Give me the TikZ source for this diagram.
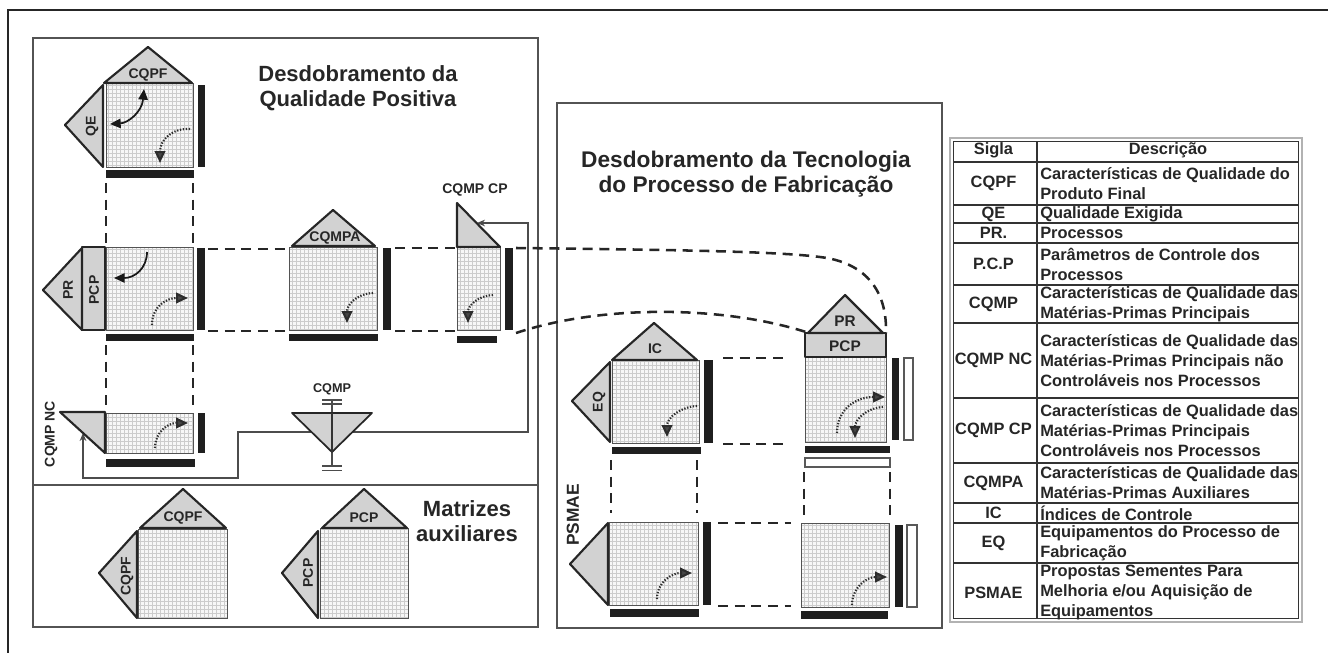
\documentclass[tikz,border=0pt]{standalone}
\usepackage{fontspec}
\setmainfont{Liberation Sans}
\usetikzlibrary{arrows.meta,patterns,calc}
\newcommand\mtxbox[4]{%
  \fill[gray!6] (#1,#2) rectangle (#3,#4);
  \fill[pattern=grid, pattern color=gray!40] (#1,#2) rectangle (#3,#4);
  \draw[gray!65!black, line width=0.7pt] (#1,#2) rectangle (#3,#4);}
\begin{document}
\begin{tikzpicture}[x=0.75pt,y=-0.75pt,
  panel/.style={draw=gray!65!black, line width=1.1pt},
  tri/.style={fill=gray!35, draw=black!85, line width=1.6pt, line join=round},
  bar/.style={fill=black!88},
  wbar/.style={fill=white, draw=gray!70!black, line width=0.8pt},
  dlink/.style={draw=black!85, line width=1.9pt, dash pattern=on 7.5pt off 5pt},
  thinlink/.style={draw=gray!60!black, line width=0.8pt},
  lbl/.style={font=\bfseries\fontsize{10.5}{12}\selectfont, text=black!85, inner sep=0pt},
  ttl/.style={font=\bfseries\fontsize{16.5}{19}\selectfont, text=black!85, align=center, inner sep=0pt},
  tab/.style={font=\bfseries\fontsize{12.3}{15}\selectfont, text=black!85, inner sep=0pt, align=left},
  tabc/.style={font=\bfseries\fontsize{12.3}{15}\selectfont, text=black!85, inner sep=0pt, align=center},
  solidarr/.style={draw=black!90, line width=1.3pt, -{Triangle[length=8pt,width=7pt]}},
  dblarr/.style={draw=black!90, line width=1.3pt, {Triangle[length=8pt,width=7pt]}-{Triangle[length=8pt,width=7pt]}},
  dotarr/.style={draw=gray!35!black, line width=1.6pt, dash pattern=on 1pt off 1.2pt, -{Triangle[length=9pt,width=8pt,fill=gray!55!black]}},
  rowline/.style={draw=black!80, line width=1.2pt}
]
\useasboundingbox (0,0) rectangle (1328,653);
% outer frame
\draw[line width=2.2pt, black!85] (8,653) -- (8,10) -- (1328,10);
% panels
\draw[panel] (33,38) rectangle (538,627);
\draw[panel] (33,485) -- (538,485);
\draw[panel] (557,103) rectangle (942,628);

% titles
\node[ttl] (t1) at (358,88.5) {Desdobramento da\\Qualidade Positiva};
\node[ttl] (t2) at (467,521) {Matrizes\\auxiliares};
\node[ttl, font=\bfseries\fontsize{17}{19}\selectfont] (t3) at (746,174) {Desdobramento da Tecnologia\\do Processo de Fabricação};

% ---------- dashed links (left) ----------
\draw[dlink] (106,183) -- (106,245);
\draw[dlink] (193,183) -- (193,245);
\draw[dlink] (106,345) -- (106,410);
\draw[dlink] (193,345) -- (193,410);
\draw[dlink] (208,249) -- (287,249);
\draw[dlink] (208,331) -- (287,331);
\draw[dlink] (395,248) -- (455,248);
\draw[dlink] (395,331) -- (455,331);
\coordinate (cpA) at (516,248);
\coordinate (cpB) at (516,333);
\coordinate (prR) at (886,333);
\coordinate (prL) at (806,332);
\draw[dlink] (cpA) .. controls (700,250) and (790,252) .. (827,258) .. controls (870,266) and (887,295) .. (prR);
\draw[dlink] (cpB) .. controls (600,305) and (720,305) .. (prL);
% ---------- dashed links (right) ----------
\draw[dlink] (723,358) -- (788,358);
\draw[dlink] (723,444) -- (788,444);
\draw[dlink] (611,460) -- (611,513);
\draw[dlink] (697,460) -- (697,513);
\draw[dlink] (804,472) -- (804,520);
\draw[dlink] (890,472) -- (890,520);
\draw[dlink] (718,523) -- (791,523);
\draw[dlink] (718,606) -- (791,606);

% ---------- CQMP connector ----------
\coordinate (ncend) at (83,433);
\coordinate (cpend) at (477,223);
\draw[thinlink, -{Stealth[length=6pt,width=5pt]}] (312,432) -- (238,432) -- (238,478) -- (83,478) -- (ncend);
\draw[thinlink, -{Stealth[length=6pt,width=5pt]}] (352,432) -- (528,432) -- (528,223) -- (cpend);
% CQMP symbol
\draw[thinlink, line width=1pt] (332,400) -- (332,466);
\draw[thinlink, line width=1pt] (322,400) -- (342,400) (322,404) -- (342,404);
\draw[thinlink, line width=1pt] (322,466) -- (342,466) (322,470.5) -- (342,470.5);
\draw[tri, line width=1.3pt] (292,413) -- (372,413) -- (332,452) -- cycle;
\draw[gray!40!black, line width=0.8pt] (332,413) -- (332,452);
\node[lbl, font=\bfseries\fontsize{9.5}{11}\selectfont] (lcqmp) at (332,389) {CQMP};

% ---------- M1: CQPF / QE ----------
\mtxbox{106}{83}{193}{167}
\draw[tri] (104,83) -- (148,47) -- (192,83) -- cycle;
\draw[tri] (103,85) -- (65,125) -- (103,167) -- cycle;
\fill[bar] (198,85) rectangle (205,167);
\fill[bar] (106,170) rectangle (194,178);
\node[lbl] (l1) at (148,75) {CQPF};
\node[lbl, rotate=90] (l2) at (92,126) {QE};
\draw[dblarr] (110,124) .. controls (128,123) and (142,112) .. (144,89);
\draw[dotarr] (190,129) .. controls (172,128) and (160,140) .. (160,163);

% ---------- M2: PR / PCP ----------
\mtxbox{106}{247}{193}{330}
\draw[tri] (82,247) rectangle (105,330);
\draw[tri] (82,248) -- (43,290) -- (82,330) -- cycle;
\fill[bar] (197,248) rectangle (205,330);
\fill[bar] (106,334) rectangle (194,341);
\node[lbl, rotate=90] (l3) at (68,290) {PR};
\node[lbl, rotate=90] (l4) at (94,290) {PCP};
\draw[solidarr] (147,252) .. controls (147,268) and (135,278) .. (114,278);
\draw[dotarr] (152,325) .. controls (152,306) and (167,298) .. (188,298);

% ---------- M3: CQMP NC ----------
\mtxbox{106}{413}{193}{453}
\draw[tri] (60,412) -- (105,412) -- (105,453) -- cycle;
\fill[bar] (198,413) rectangle (205,453);
\fill[bar] (106,459) rectangle (195,467);
\node[lbl, rotate=90] (l5) at (51,434) {CQMP NC};
\draw[dotarr] (155,448) .. controls (155,432) and (168,423) .. (188,423);

% ---------- M4: CQMPA ----------
\mtxbox{289}{247}{377}{330}
\draw[tri] (292,246) -- (333,210) -- (375,246) -- cycle;
\fill[bar] (383,248) rectangle (391,330);
\fill[bar] (289,334) rectangle (378,341);
\node[lbl] (l6) at (335,238) {CQMPA};
\draw[dotarr] (373,293) .. controls (356,294) and (347,305) .. (347,323);

% ---------- M5: CQMP CP ----------
\mtxbox{457}{247}{500}{330}
\draw[tri] (457,203) -- (457,247) -- (500,247) -- cycle;
\fill[bar] (505,248) rectangle (513,330);
\fill[bar] (457,336) rectangle (497,343);
\node[lbl] (l7) at (475,190) {CQMP CP};
\draw[dotarr] (493,295) .. controls (476,296) and (468,307) .. (468,323);

% ---------- auxiliary matrices ----------
\mtxbox{138}{529}{227}{618}
\draw[tri] (140,528) -- (183,489) -- (226,528) -- cycle;
\draw[tri] (137,531) -- (99,573) -- (137,618) -- cycle;
\node[lbl] (l8) at (183,518) {CQPF};
\node[lbl, rotate=90] (l9) at (127,576) {CQPF};
\mtxbox{320}{528}{408}{618}
\draw[tri] (322,528) -- (364,489) -- (407,528) -- cycle;
\draw[tri] (318,531) -- (282,573) -- (318,618) -- cycle;
\node[lbl] (l10) at (364,518) {PCP};
\node[lbl, rotate=90] (l11) at (308,573) {PCP};

% ---------- R1: IC / EQ ----------
\mtxbox{612}{360}{699}{443}
\draw[tri] (612,360) -- (654,323) -- (697,360) -- cycle;
\draw[tri] (610,362) -- (572,401) -- (610,442) -- cycle;
\fill[bar] (704,360) rectangle (713,443);
\fill[bar] (612,447) rectangle (701,454);
\node[lbl] (l12) at (655,349) {IC};
\node[lbl, rotate=90] (l13) at (599,402) {EQ};
\draw[dotarr] (697,406) .. controls (680,407) and (667,418) .. (667,437);

% ---------- R2: PR / PCP ----------
\mtxbox{805}{357}{886}{442}
\draw[tri] (805,333) rectangle (886,357);
\draw[tri] (808,333) -- (845,295) -- (883,333) -- cycle;
\fill[bar] (892,358) rectangle (899,440);
\draw[wbar] (904,358) rectangle (913,440);
\fill[bar] (805,446) rectangle (890,453);
\draw[wbar] (805,458) rectangle (890,467);
\node[lbl, font=\bfseries\fontsize{11.5}{13}\selectfont] (l14) at (845,321) {PR};
\node[lbl, font=\bfseries\fontsize{11.5}{13}\selectfont] (l15) at (845,346) {PCP};
\draw[dotarr] (837,433) .. controls (837,410) and (855,397) .. (885,397);
\draw[dotarr] (883,407) .. controls (866,408) and (855,420) .. (855,438);

% ---------- R3: PSMAE ----------
\mtxbox{609}{522}{698}{605}
\draw[tri] (608,523) -- (570,564) -- (608,605) -- cycle;
\fill[bar] (703,522) rectangle (711,605);
\fill[bar] (610,609) rectangle (699,617);
\node[lbl, rotate=90, font=\bfseries\fontsize{13}{15}\selectfont] (l16) at (573,515) {PSMAE};
\draw[dotarr] (657,599) .. controls (657,582) and (672,573) .. (692,573);

% ---------- R4 ----------
\mtxbox{801}{523}{889}{607}
\fill[bar] (895,525) rectangle (903,607);
\draw[wbar] (907,525) rectangle (917,607);
\fill[bar] (801,611) rectangle (888,619);
\draw[dotarr] (852,605) .. controls (852,588) and (866,577) .. (887,577);

% ---------- table ----------
\draw[line width=2.2pt, gray!60] (950,138) rectangle (1302,622);
\draw[line width=1pt, black!80] (953.5,141.5) rectangle (1298.5,618.5);
\foreach \yy in {162,205,223,243,285,323,398,463,503,523,563}
  \draw[rowline] (953.5,\yy) -- (1298.5,\yy);
\draw[rowline] (1037,141.5) -- (1037,618.5);
\node[tabc] (s0) at (993.5,150) {Sigla};
\node[tabc] (d0) at (1168,150) {Descrição};
\node[tabc] (s1) at (993.5,183.5) {CQPF};
\node[tab, anchor=west] (d1) at (1040,183.5) {Características de Qualidade do\\Produto Final};
\node[tabc] (s2) at (993.5,214) {QE};
\node[tab, anchor=west] (d2) at (1040,214) {Qualidade Exigida};
\node[tabc] (s3) at (993.5,233) {PR.};
\node[tab, anchor=west] (d3) at (1040,233) {Processos};
\node[tabc] (s4) at (993.5,264) {P.C.P};
\node[tab, anchor=west] (d4) at (1040,264) {Parâmetros de Controle dos\\Processos};
\node[tabc] (s5) at (993.5,304) {CQMP};
\node[tab, anchor=west] (d5) at (1040,304) {Características de Qualidade das\\Matérias-Primas Principais};
\node[tabc] (s6) at (993.5,360.5) {CQMP NC};
\node[tab, anchor=west] (d6) at (1040,360.5) {Características de Qualidade das\\Matérias-Primas Principais não\\Controláveis nos Processos};
\node[tabc] (s7) at (993.5,430.5) {CQMP CP};
\node[tab, anchor=west] (d7) at (1040,430.5) {Características de Qualidade das\\Matérias-Primas Principais\\Controláveis nos Processos};
\node[tabc] (s8) at (993.5,483) {CQMPA};
\node[tab, anchor=west] (d8) at (1040,483) {Características de Qualidade das\\Matérias-Primas Auxiliares};
\node[tabc] (s9) at (993.5,513) {IC};
\node[tab, anchor=west] (d9) at (1040,513) {Índices de Controle};
\node[tabc] (s10) at (993.5,543) {EQ};
\node[tab, anchor=west] (d10) at (1040,543) {Equipamentos do Processo de\\Fabricação};
\node[tabc] (s11) at (993.5,592.5) {PSMAE};
\node[tab, anchor=west] (d11) at (1040,592.5) {Propostas Sementes Para\\Melhoria e/ou Aquisição de\\Equipamentos};
\end{tikzpicture}
\end{document}
